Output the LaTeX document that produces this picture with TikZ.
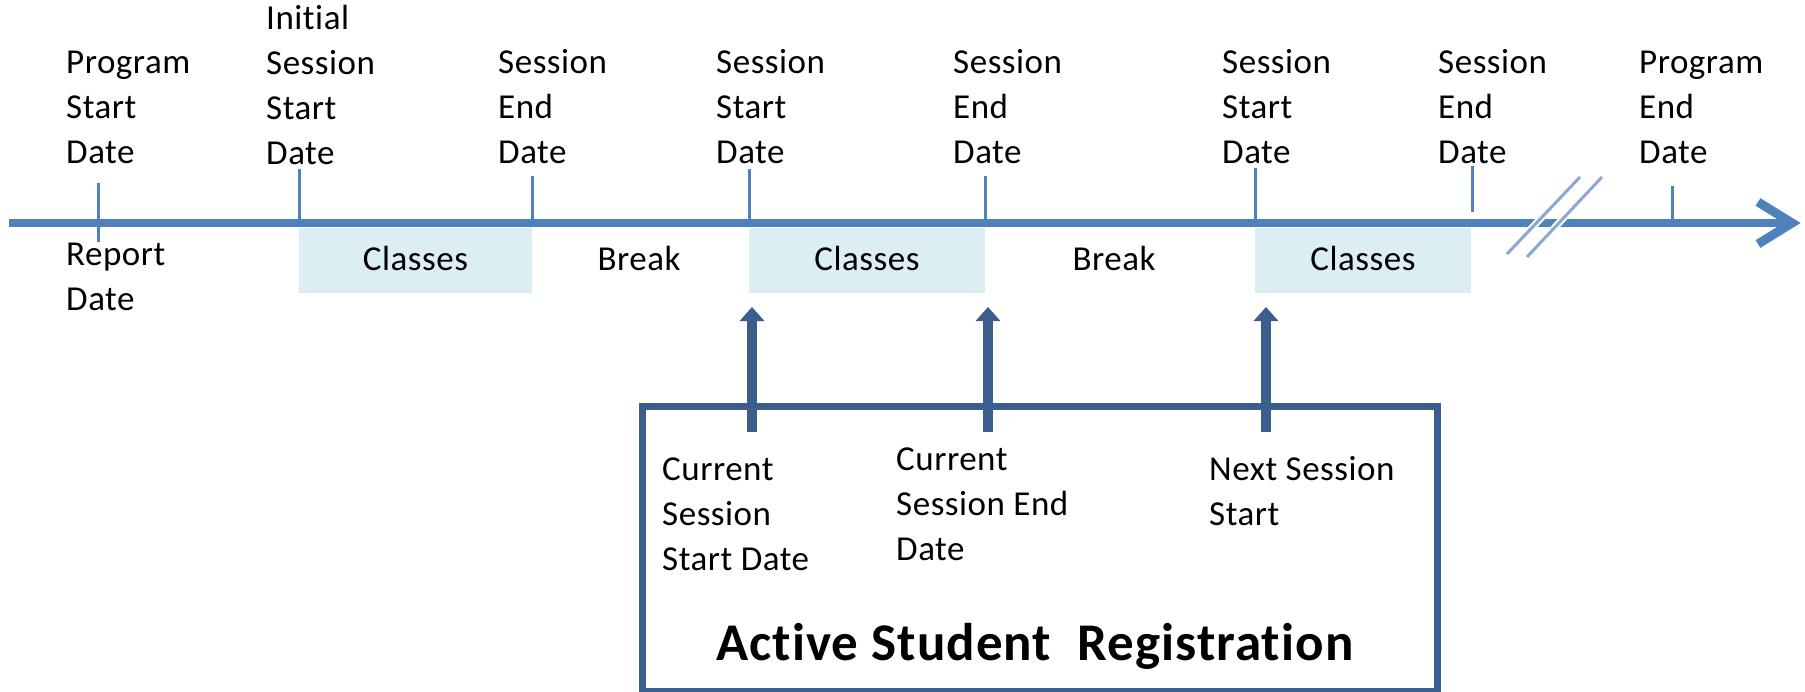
\documentclass[tikz,border=0pt]{standalone}
\usepackage{fontspec}
\setmainfont{Carlito}[Ligatures=NoCommon]
\usetikzlibrary{arrows.meta}
\definecolor{axisblue}{RGB}{79,129,189}
\definecolor{darkblue}{RGB}{59,94,140}
\definecolor{classfill}{RGB}{219,238,244}
\definecolor{breakblue}{RGB}{140,168,210}
\newcommand\mlines[1]{\begin{tabular}[t]{@{}l@{}}#1\end{tabular}}
\tikzset{
  lbl/.style={inner sep=0pt, anchor=base west, font=\fontsize{35}{45}\selectfont\addfontfeature{LetterSpace=1.5}},
  clbl/.style={inner sep=0pt, anchor=base, font=\fontsize{35}{45}\selectfont\addfontfeature{LetterSpace=1.5}},
  tickline/.style={draw=axisblue, line width=3pt},
  clsbox/.style={fill=classfill, draw=none, inner sep=0pt, anchor=north west},
  uparrow/.style={draw=darkblue, line width=10pt, -{Triangle[width=24pt,length=14pt]}},
  regbox/.style={draw=darkblue, line width=6.5pt, inner sep=0pt, anchor=north west},
  breakmark/.style={draw=breakblue, line width=3pt},
}
\begin{document}
\begin{tikzpicture}[x=1pt,y=-1pt]
\useasboundingbox (0,0) rectangle (1805,691);
% classes boxes
\node[clsbox, minimum width=233pt, minimum height=65pt] (c1) at (299,228) {};
\node[clsbox, minimum width=236pt, minimum height=65pt] (c2) at (749,228) {};
\node[clsbox, minimum width=216pt, minimum height=65pt] (c3) at (1255,228) {};
% axis
\coordinate (ax0) at (9,223);
\coordinate (ax1) at (1790,223);
\draw[draw=axisblue, line width=8.5pt] (ax0) -- (ax1);
\draw[draw=axisblue, line width=9pt, line join=miter] (1758,202) -- (1792,223) -- (1758,244);
% break marks
\draw[draw=white, line width=7pt] (1580,177) -- (1507,254);
\draw[draw=white, line width=7pt] (1602,177) -- (1527,257);
\draw[breakmark] (1580,177) -- (1507,254);
\draw[breakmark] (1602,177) -- (1527,257);
% ticks
\draw[tickline] (98,183) -- (98,242);
\draw[tickline] (299,169) -- (299,223);
\draw[tickline] (532,176) -- (532,223);
\draw[tickline] (749,169) -- (749,223);
\draw[tickline] (985,176) -- (985,223);
\draw[tickline] (1255,168) -- (1255,223);
\draw[tickline] (1472,166) -- (1472,212);
\draw[tickline] (1672,186) -- (1672,223);
% top labels
\node[lbl] (ps) at (66,73) {\mlines{Program\\Start\\Date}};
\node[lbl] (is) at (266,29) {\mlines{Initial\\Session\\Start\\Date}};
\node[lbl] (se1) at (498,73) {\mlines{Session\\End\\Date}};
\node[lbl] (ss1) at (716,73) {\mlines{Session\\Start\\Date}};
\node[lbl] (se2) at (953,73) {\mlines{Session\\End\\Date}};
\node[lbl] (ss2) at (1222,73) {\mlines{Session\\Start\\Date}};
\node[lbl] (se3) at (1438,73) {\mlines{Session\\End\\Date}};
\node[lbl] (pe) at (1639,73) {\mlines{Program\\End\\Date}};
\node[lbl] (rd) at (66,265) {\mlines{Report\\Date}};
% classes / break labels
\node[clbl] (t1) at (415.5,270) {Classes};
\node[clbl] (t2) at (867,270) {Classes};
\node[clbl] (t3) at (1363,270) {Classes};
\node[clbl] (b1) at (639,270) {Break};
\node[clbl] (b2) at (1114,270) {Break};
% registration box
\node[regbox, minimum width=795pt, minimum height=285pt] (reg) at (639,403) {};
\node[lbl] (r1) at (662,480) {\mlines{Current\\Session\\Start Date}};
\node[lbl] (r2) at (896,470) {\mlines{Current\\Session End\\Date}};
\node[lbl] (r3) at (1209,480) {\mlines{Next Session\\Start}};
\node[inner sep=0pt, anchor=base west, font=\fontsize{53}{60}\selectfont\bfseries\addfontfeature{LetterSpace=2}] (title) at (716,660) {Active Student\ \ Registration};
% up arrows
\coordinate (a1s) at (752,432); \coordinate (a1t) at (752,307);
\coordinate (a2s) at (988,432); \coordinate (a2t) at (988,307);
\coordinate (a3s) at (1266,432); \coordinate (a3t) at (1266,307);
\draw[uparrow] (a1s) -- (a1t);
\draw[uparrow] (a2s) -- (a2t);
\draw[uparrow] (a3s) -- (a3t);
\end{tikzpicture}
\end{document}
